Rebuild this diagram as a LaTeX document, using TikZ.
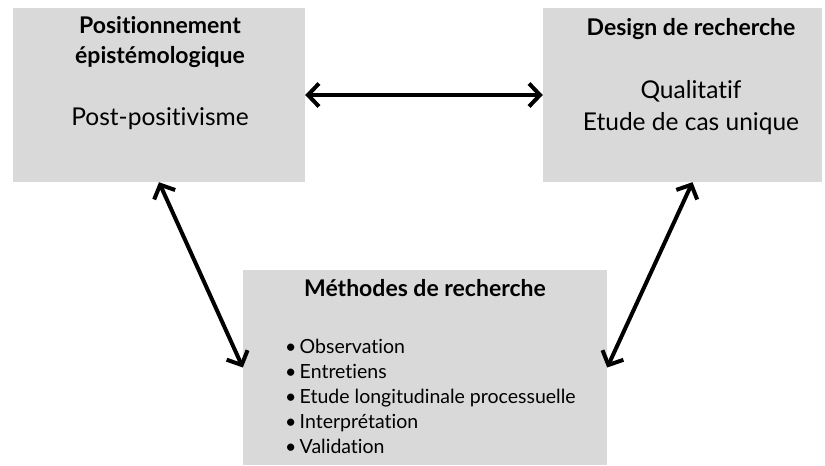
\documentclass[tikz,border=0pt]{standalone}
\usepackage{fontspec}
\setmainfont{Lato}[Ligatures=NoCommon]
\usetikzlibrary{arrows.meta, positioning}
\definecolor{boxgray}{RGB}{217,217,217}

\begin{document}
\begin{tikzpicture}[x=1pt, y=-1pt,
  box/.style={fill=boxgray, inner sep=0pt},
  title/.style={anchor=base, font=\fontsize{23}{27}\selectfont\bfseries},
  body/.style={anchor=base, font=\fontsize{24.5}{29}\selectfont},
  item/.style={anchor=base west, inner sep=0pt, font=\fontsize{19.5}{23}\selectfont},
  arr/.style={line width=4pt, {Straight Barb[length=11pt,width=23pt]}-{Straight Barb[length=11pt,width=23pt]}}]
\useasboundingbox (0,0) rectangle (825,466);

% the three boxes
\node[box, minimum width=292pt, minimum height=174pt] (pos) at (159,95) {};
\node[box, minimum width=279pt, minimum height=174pt] (design) at (682.5,95) {};
\node[box, minimum width=364pt, minimum height=195pt] (meth) at (425,367.5) {};

% texts
\node[title] (posA) at (160,33) {Positionnement};
\node[title] (posB) at (160,63) {épistémologique};
\node[body] (posC) at (160,125) {Post-positivisme};

\node[title] (desA) at (691,35) {Design de recherche};
\node[body] (desB) at (691,98) {Qualitatif};
\node[body] (desC) at (691,130) {Etude de cas unique};

\node[title] (methA) at (425,296) {Méthodes de recherche};
\foreach \t [count=\i] in {Observation, Entretiens, Etude longitudinale processuelle, Interprétation, Validation}
  \node[item] (item\i) at (285,{328+25*\i}) {\textbullet\,\t};

% connectors
\draw[arr] (pos.east) -- (design.west);
\draw[arr] (pos.south) -- (meth.west);
\draw[arr] ([xshift=10pt]design.south) -- (meth.east);
\end{tikzpicture}
\end{document}
